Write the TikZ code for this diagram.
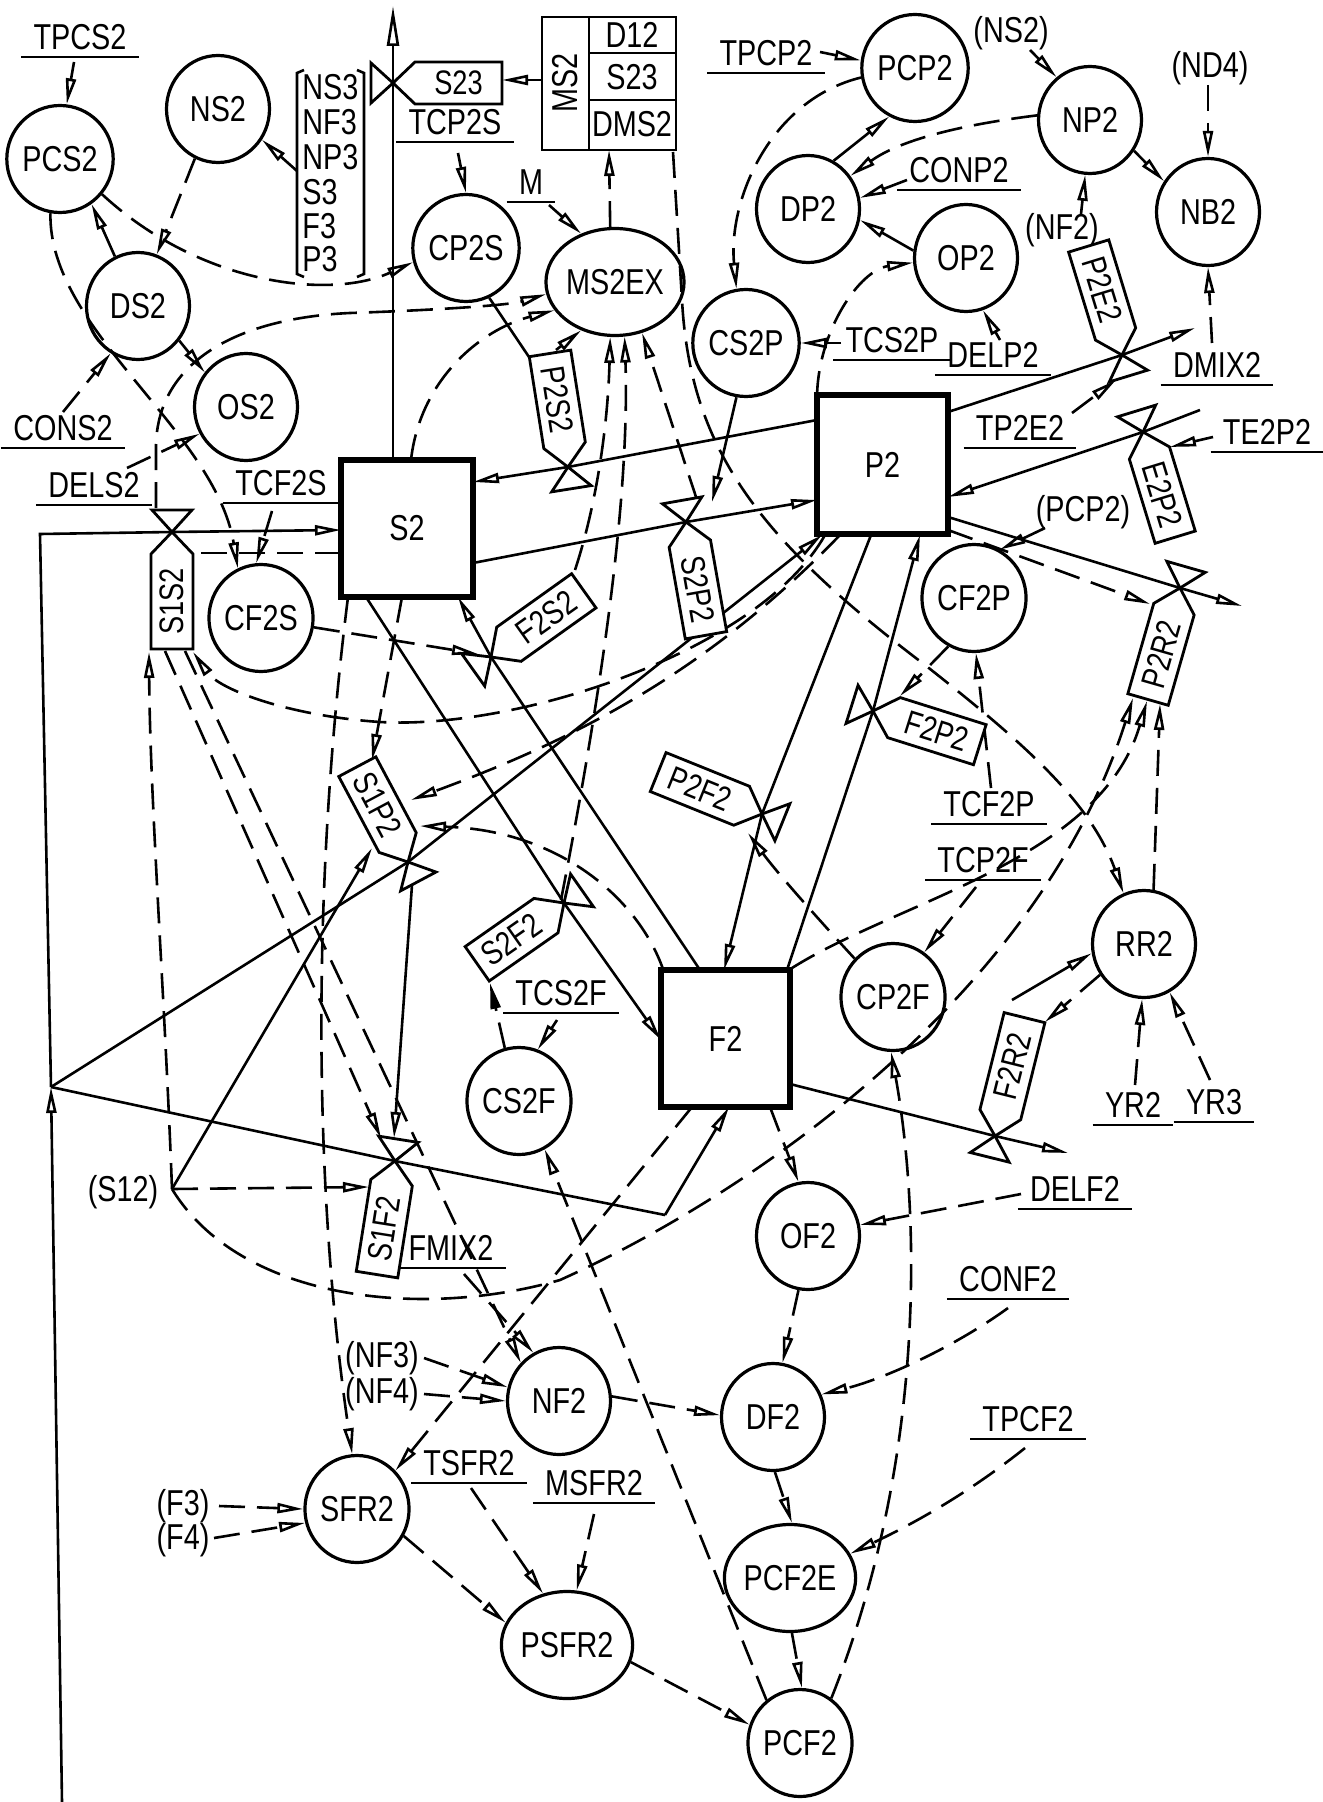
\documentclass[tikz,border=0pt]{standalone}
\usepackage{fontspec}
\setmainfont{Liberation Sans}[FakeStretch=0.8]
\usetikzlibrary{arrows.meta,shapes.geometric,calc}
\newcommand\lbl{\fontsize{18}{20}\selectfont}
\newcommand\vlbl{\fontsize{17}{19}\selectfont}
\newcommand\valvedraw[5]{%
  \begin{scope}[shift={(#1)}, rotate=#2]
    \draw[vbox] (0pt,0pt) -- (-11pt,10pt) -- (-11pt,-10pt) -- cycle;
    \draw[vbox] (0pt,0pt) -- (11pt,10.5pt) -- (#3pt,10.5pt) -- (#3pt,-10.5pt) -- (11pt,-10.5pt) -- cycle;
    \pgfmathsetmacro\vmid{(#3+11)/2}
    \node[font=\vlbl, rotate=#5, inner sep=0pt] at (\vmid pt,0pt) {#4};
  \end{scope}}
\tikzset{
  st/.style={ellipse, draw, fill=white, line width=1.6pt, minimum width=51.5pt, minimum height=53.5pt, inner sep=0pt, font=\lbl},
  lv/.style={rectangle, draw, fill=white, line width=2.6pt, inner sep=0pt, font=\lbl},
  lab/.style={font=\lbl, inner sep=1pt},
  ul/.style={append after command={\pgfextra{\let\ulnode\tikzlastnode}
     ([xshift=-5pt,yshift=-2.5pt]\ulnode.south west) edge[line width=1.2pt] ([xshift=5pt,yshift=-2.5pt]\ulnode.south east)}},
  flow/.style={line width=1.3pt},
  info/.style={line width=1.3pt, dash pattern=on 13pt off 6pt},
  vbox/.style={line width=1.4pt, fill=white, line join=miter},
  >={Triangle[length=13pt,width=5pt,fill=white]}
}
\begin{document}
\begin{tikzpicture}[x=0.5pt,y=-0.5pt]
\path[fill=white] (0,0) rectangle (1322,1802);
\useasboundingbox (0,0) rectangle (1322,1802);

% ---------- level / auxiliary nodes ----------
\node[st] (PCS2) at (60,159) {PCS2};
\node[st] (NS2) at (218,109) {NS2};
\node[st] (DS2) at (138,306) {DS2};
\node[st] (OS2) at (246,407) {OS2};
\node[st] (CP2S) at (466,248) {CP2S};
\node[st] (MS2EX) at (615,282) {MS2EX};
\node[st] (CF2S) at (261,618) {CF2S};
\node[st] (PCP2) at (915,68) {PCP2};
\node[st] (NP2) at (1090,120) {NP2};
\node[st] (NB2) at (1208,212) {NB2};
\node[st] (DP2) at (808,209) {DP2};
\node[st] (OP2) at (966,258) {OP2};
\node[st] (CS2P) at (746,343) {CS2P};
\node[st] (CF2P) at (974,598) {CF2P};
\node[st] (CP2F) at (893,997) {CP2F};
\node[st] (RR2) at (1144,944) {RR2};
\node[st] (CS2F) at (519,1101) {CS2F};
\node[st] (OF2) at (808,1236) {OF2};
\node[st] (NF2) at (559,1401) {NF2};
\node[st] (DF2) at (773,1417) {DF2};
\node[st] (SFR2) at (357,1509) {SFR2};
\node[st] (PSFR2) at (567,1645) {PSFR2};
\node[st] (PCF2E) at (790,1578) {PCF2E};
\node[st] (PCF2) at (800,1743) {PCF2};

\node[lv, minimum width=66pt, minimum height=68.5pt] (S2) at (407,528.5) {S2};
\node[lv, minimum width=65.5pt, minimum height=69.5pt] (P2) at (882.5,464.5) {P2};
\node[lv, minimum width=64.5pt, minimum height=68.5pt] (F2) at (725.5,1038.5) {F2};

% MS2 table
\node[draw, line width=1.4pt, minimum width=67pt, minimum height=66.5pt, inner sep=0pt] (MS2) at (609,83.5) {};
\draw[line width=1.4pt] (589,17) -- (589,150) (589,53) -- (676,53) (589,100) -- (676,100);
\node[lab, rotate=90] (MS2t) at (565,83) {MS2};
\node[lab] (D12) at (632,35) {D12};
\node[lab] (S23t) at (632,77) {S23};
\node[lab] (DMS2) at (632,124) {DMS2};

% bracket list
\draw[line width=1.3pt] (304,70) -- (297,73) -- (297,274) -- (304,277);
\draw[line width=1.3pt] (357,70) -- (364,73) -- (364,274) -- (357,277);
\node[lab, anchor=west] (NS3) at (300,87) {NS3};
\node[lab, anchor=west] (NF3) at (300,122) {NF3};
\node[lab, anchor=west] (NP3) at (300,157) {NP3};
\node[lab, anchor=west] (S3) at (300,192) {S3};
\node[lab, anchor=west] (F3) at (300,226) {F3};
\node[lab, anchor=west] (P3) at (300,259) {P3};

% ---------- labels ----------
\node[lab,ul] (TPCS2) at (80,37) {TPCS2};
\node[lab,ul] (CONS2) at (63,428) {CONS2};
\node[lab,ul] (DELS2) at (94,485) {DELS2};
\node[lab,ul] (TCF2S) at (281,483) {TCF2S};
\node[lab,ul] (TCP2S) at (455,122) {TCP2S};
\node[lab,ul] (M) at (531,182) {M};
\node[lab,ul] (TPCP2) at (766,53) {TPCP2};
\node[lab] (NS2p) at (1011,33) {(NS2)};
\node[lab] (ND4p) at (1210,68) {(ND4)};
\node[lab,ul] (CONP2) at (959,170) {CONP2};
\node[lab] (NF2p) at (1062,230) {(NF2)};
\node[lab,ul] (DELP2) at (993,355) {DELP2};
\node[lab,ul] (TCS2P) at (892,340) {TCS2P};
\node[lab,ul] (DMIX2) at (1217,365) {DMIX2};
\node[lab,ul] (TP2E2) at (1020,428) {TP2E2};
\node[lab,ul] (TE2P2) at (1267,432) {TE2P2};
\node[lab] (PCP2p) at (1083,512) {(PCP2)};
\node[lab,ul] (TCF2P) at (989,804) {TCF2P};
\node[lab,ul] (TCP2F) at (983,860) {TCP2F};
\node[lab,ul] (YR2) at (1133,1105) {YR2};
\node[lab,ul] (YR3) at (1214,1102) {YR3};
\node[lab,ul] (DELF2) at (1075,1189) {DELF2};
\node[lab,ul] (CONF2) at (1008,1279) {CONF2};
\node[lab,ul] (TPCF2) at (1028,1419) {TPCF2};
\node[lab,ul] (TCS2F) at (561,993) {TCS2F};
\node[lab,ul] (FMIX2) at (451,1248) {FMIX2};
\node[lab] (NF3p) at (382,1358) {(NF3)};
\node[lab] (NF4p) at (382,1394) {(NF4)};
\node[lab,ul] (TSFR2) at (469,1463) {TSFR2};
\node[lab,ul] (MSFR2) at (594,1483) {MSFR2};
\node[lab] (F3p) at (183,1506) {(F3)};
\node[lab] (F4p) at (183,1540) {(F4)};
\node[lab] (S12p) at (123,1192) {(S12)};

% ---------- valve points ----------
\coordinate (S23) at (393,83);
\coordinate (S1S2) at (172,532);
\coordinate (P2S2) at (568,467);
\coordinate (S2P2) at (686,522);
\coordinate (F2S2) at (491,657);
\coordinate (S1P2) at (408,862);
\coordinate (S2F2) at (564,903);
\coordinate (S1F2) at (395,1161);
\coordinate (P2E2) at (1122,355);
\coordinate (E2P2) at (1143,432);
\coordinate (P2R2) at (1180,588);
\coordinate (F2P2) at (873,711);
\coordinate (P2F2) at (762,814);
\coordinate (F2R2) at (995,1136);
\coordinate (J) at (51,1087);
\coordinate (S12) at (172,1189);

% ---------- top left ----------
\draw[info,->] (74,62) -- (PCS2.83);
\draw[info,->] (NS2.245) -- (DS2.70);
\draw[flow,->] (DS2.115) -- (PCS2.-55);
\draw[flow,->] (DS2.-40) -- (OS2.140);
\draw[info,->] (63,412) -- (DS2.-120);
\draw[info,->] (127,468) -- (OS2.-150);
\draw[info,->] (297,171) -- (NS2.-35);
\draw[info,->] (PCS2.-40) .. controls (200,285) and (330,300) .. (CP2S.-165);
\draw[info,->] (PCS2.-100) .. controls (48,330) and (215,430) .. (CF2S.115);
\draw[info,->] (156,508) -- (156,445) .. controls (158,360) and (240,318) .. (350,313) .. controls (440,310) and (510,305) .. (MS2EX.190);
\draw[info,->] (411,460) .. controls (420,380) and (480,330) .. (MS2EX.205);
\draw[info,->] (458,153) -- (CP2S.north);
\draw[info,->] (549,205) -- (MS2EX.125);
\draw[info,->] (MS2EX.95) -- (609,150);
\draw[info,->] (542,80) -- (502,80);
\draw[flow,-{Triangle[length=20pt,width=6pt,fill=white]}] (393,460) -- (393,6);
\draw[info,->] (272,511) -- (CF2S.95);
\draw[info] (341,553) -- (193,553);

% ---------- S2 / P2 exchanges ----------
\draw[flow] (CP2S.-65) -- (529,357);
\draw[info,->] (556,350) -- (MS2EX.-125);
\draw[flow] (817,420) -- (P2S2);
\draw[flow,->] (P2S2) -- (473,482);
\draw[flow] (473,563) -- (S2P2);
\draw[flow,->] (S2P2) -- (817,500);
\draw[flow,->] (CS2P.-100) -- (712,502);
\draw[info,->] (697,500) -- (MS2EX.-62);
\draw[info,->] (575,570) .. controls (598,500) and (608,420) .. (MS2EX.-95);
\draw[info,->] (561,900) .. controls (600,700) and (630,500) .. (MS2EX.-80);
\draw[flow] (700,970) -- (F2S2);
\draw[flow,->] (F2S2) -- (458,597);
\draw[info,->] (CF2S.-10) -- (478,654);

% ---------- S1 flows ----------
\draw[flow,->] (62,1802) -- (J);
\draw[flow] (J) -- (40,534) -- (S1S2);
\draw[flow,->] (S1S2) -- (341,530);
\draw[flow] (J) -- (S1P2);
\draw[flow,->] (S1P2) -- (822,535);
\draw[flow] (J) -- (S1F2) -- (665,1215);
\draw[flow,->] (665,1215) -- (729,1107);

% (S12) fan
\draw[info,->] (S12) .. controls (165,1000) and (150,800) .. (149,652);
\draw[flow,->] (S12) -- (372,848);
\draw[info,->] (S12) -- (369,1187);
\draw[info,->] (S12) .. controls (240,1300) and (420,1320) .. (560,1280) .. controls (760,1190) and (1040,990) .. (1133,698);

% P2 -> S1 valves
\draw[info,->] (825,535) .. controls (760,650) and (520,730) .. (380,722) .. controls (290,716) and (220,690) .. (193,652);
\draw[info,->] (840,535) .. controls (700,680) and (560,745) .. (411,800);
\draw[info,->] (664,972) .. controls (640,900) and (560,830) .. (420,826);

% S2 -> F2
\draw[flow] (366,597) -- (S2F2);
\draw[flow,->] (S2F2) -- (661,1040);
\draw[info,->] (402,597) -- (372,760);
\draw[info,->] (348,597) .. controls (310,900) and (315,1200) .. (SFR2.95);
\draw[flow,->] (412,885) -- (394,1138);
\draw[info,->] (165,651) -- (381,1138);
\draw[info,->] (185,651) -- (NF2.135);

% ---------- F2 lower chain ----------
\draw[info,->] (464,1274) -- (NF2.118);
\draw[info,->] (424,1358) -- (NF2.165);
\draw[info,->] (424,1394) -- (NF2.west);
\draw[info,->] (NF2.5) -- (DF2.178);
\draw[info,->] (692,1107) -- (SFR2.45);
\draw[info,->] (219,1506) -- (SFR2.west);
\draw[info,->] (214,1538) -- (SFR2.-165);
\draw[info,->] (471,1488) -- (PSFR2.115);
\draw[info,->] (594,1514) -- (PSFR2.80);
\draw[info,->] (SFR2.-30) -- (PSFR2.160);
\draw[info,->] (PSFR2.-15) -- (PCF2.160);
\draw[info,->] (PCF2.128) -- (CS2F.-62);
\draw[info,->] (PCF2.55) .. controls (930,1450) and (918,1200) .. (CP2F.-92);
\draw[info,->] (557,1020) -- (CS2F.70);
\draw[info,-{Triangle[length=13pt,width=5pt]}] (CS2F.105) -- (490,983);
\draw[info,->] (770,1107) -- (OF2.100);
\draw[info,->] (1021,1194) -- (OF2.12);
\draw[info,->] (OF2.-100) -- (DF2.80);
\draw[info,->] (1008,1308) .. controls (950,1350) and (880,1380) .. (DF2.25);
\draw[info,->] (DF2.-88) -- (PCF2E.88);
\draw[info,->] (1025,1448) .. controls (960,1500) and (900,1530) .. (PCF2E.22);
\draw[info,->] (PCF2E.-88) -- (PCF2.88);

% ---------- F2R2 / RR2 ----------
\draw[flow] (790,1084) -- (F2R2);
\draw[flow,->] (F2R2) -- (1068,1153);
\draw[info,->] (RR2.-145) -- (1045,1022);
\draw[flow,->] (1012,1000) -- (RR2.190);
\draw[info,->] (1135,1085) -- (RR2.-92);
\draw[info,->] (1210,1080) -- (RR2.-62);
\draw[info,->] (RR2.80) -- (1160,704);
\draw[info,->] (792,968) .. controls (900,900) and (1100,860) .. (1147,701);
\draw[info,->] (673,152) -- (682,300) .. controls (690,450) and (760,540) .. (925,665) .. controls (1020,740) and (1090,800) .. (RR2.112);

% ---------- P2 right side ----------
\draw[flow] (948,412) -- (P2E2);
\draw[flow,->] (P2E2) -- (1195,328);
\draw[info,->] (1072,413) -- (1116,380);
\draw[info,->] (1212,343) -- (NB2.-90);
\draw[flow] (1200,410) -- (E2P2);
\draw[flow,->] (E2P2) -- (948,497);
\draw[info,->] (1213,437) -- (1170,447);
\draw[info,->] (1045,528) -- (CF2P.62);
\draw[flow] (948,517) -- (P2R2);
\draw[flow,->] (P2R2) -- (1242,606);
\draw[info,->] (948,530) -- (1150,604);

% ---------- P2 / F2 ----------
\draw[flow] (787,970) -- (F2P2);
\draw[flow,->] (F2P2) -- (920,535);
\draw[info,->] (CF2P.-118) -- (900,696);
\draw[flow] (871,535) -- (P2F2);
\draw[flow,->] (P2F2) -- (724,970);
\draw[info,->] (CP2F.135) .. controls (810,910) and (775,870) .. (748,833);
\draw[info,->] (991,788) -- (CF2P.-88);
\draw[info,->] (976,887) -- (CP2F.55);

% ---------- top right ----------
\draw[info,->] (817,397) .. controls (818,330) and (860,270) .. (OP2.185);
\draw[info,->] (PCP2.-170) .. controls (770,100) and (728,200) .. (CS2P.100);
\draw[info,->] (841,343) -- (CS2P.east);
\draw[info,->] (820,52) -- (PCP2.172);
\draw[info,->] (1030,50) -- (NP2.128);
\draw[info,->] (1208,85) -- (NB2.north);
\draw[info,->] (NP2.-35) -- (NB2.145);
\draw[info,->] (NP2.175) .. controls (960,125) and (900,140) .. (DP2.38);
\draw[info,->] (1081,214) -- (NP2.-95);
\draw[flow,->] (DP2.62) -- (PCP2.-118);
\draw[info,->] (907,180) -- (DP2.12);
\draw[flow,->] (OP2.172) -- (DP2.-12);
\draw[info,->] (1000,340) -- (OP2.-72);

% ---------- valves (drawn last) ----------
\valvedraw{S23}{0}{54.5}{S23}{0}
\valvedraw{S1S2}{-90}{58.5}{S1S2}{90}
\valvedraw{P2S2}{99}{57.5}{P2S2}{-81}
\valvedraw{S2P2}{-80}{57.5}{S2P2}{-80}
\valvedraw{F2S2}{35.5}{57}{F2S2}{35.5}
\valvedraw{S1P2}{118}{54}{S1P2}{-62}
\valvedraw{S2F2}{215}{53}{S2F2}{35}
\valvedraw{S1F2}{261}{57.5}{S1F2}{81}
\valvedraw{P2E2}{107}{57}{P2E2}{-73}
\valvedraw{E2P2}{-73}{55}{E2P2}{-73}
\valvedraw{P2R2}{254}{58}{P2R2}{74}
\valvedraw{F2P2}{-17.5}{56}{F2P2}{-17.5}
\valvedraw{P2F2}{158}{56}{P2F2}{-22}
\valvedraw{F2R2}{76}{61}{F2R2}{76}
\end{tikzpicture}
\end{document}
